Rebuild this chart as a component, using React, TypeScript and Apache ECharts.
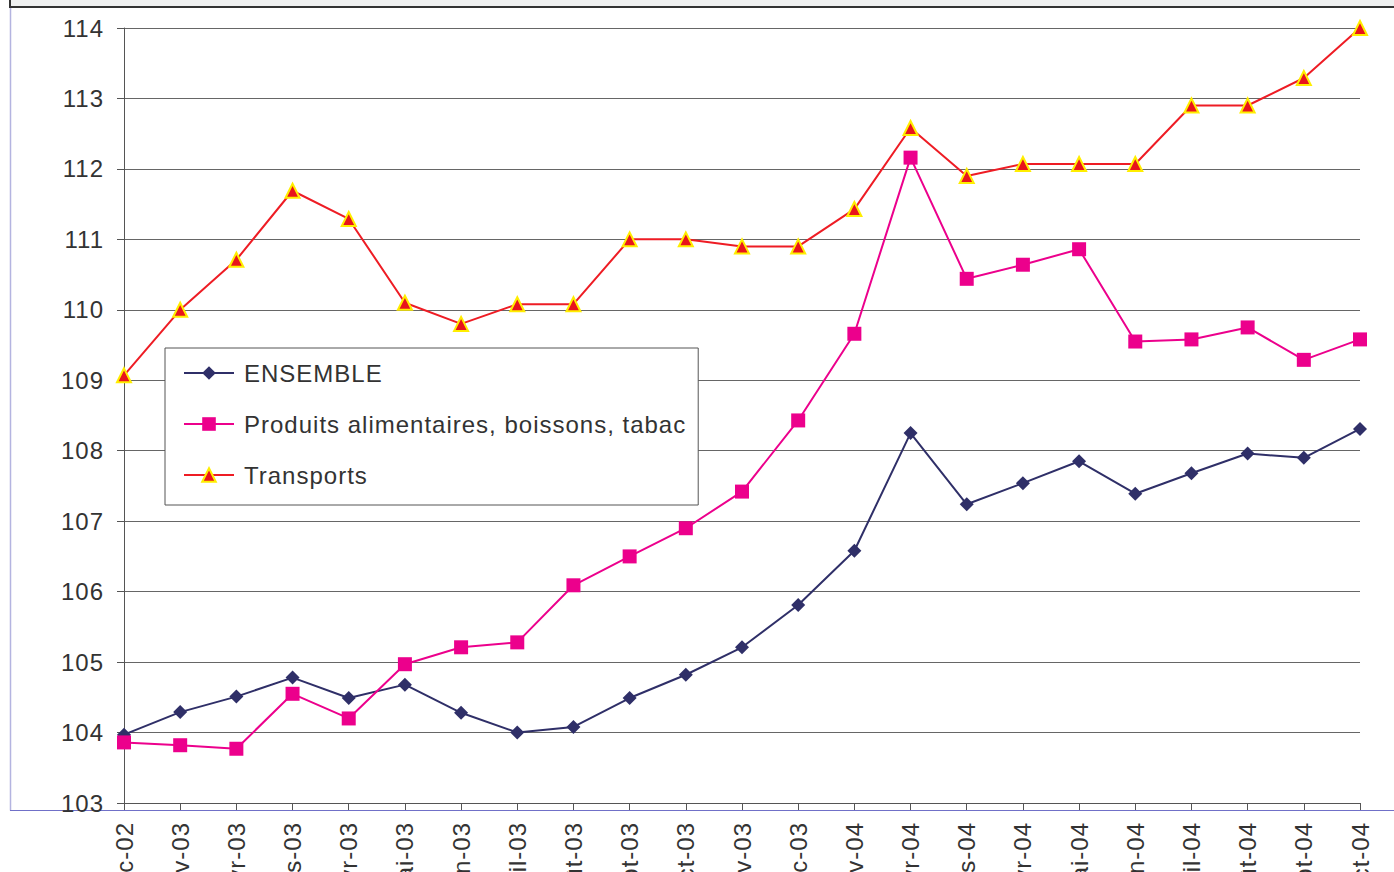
import React, { useEffect, useRef } from "react";
import * as echarts from "echarts";

const months = [
  "déc-02", "janv-03", "févr-03", "mars-03", "avr-03", "mai-03", "juin-03", "juil-03",
  "août-03", "sept-03", "oct-03", "nov-03", "déc-03", "janv-04", "févr-04", "mars-04",
  "avr-04", "mai-04", "juin-04", "juil-04", "août-04", "sept-04", "oct-04",
];

const ensemble = [
  103.97, 104.29, 104.51, 104.78, 104.49, 104.68, 104.28, 104.0, 104.08, 104.49, 104.82, 105.21,
  105.81, 106.58, 108.25, 107.24, 107.54, 107.85, 107.39, 107.68, 107.96, 107.9, 108.31,
];

const produits = [
  103.86, 103.82, 103.77, 104.55, 104.2, 104.97, 105.21, 105.28, 106.09, 106.5, 106.9, 107.42,
  108.43, 109.66, 112.16, 110.44, 110.64, 110.86, 109.55, 109.58, 109.75, 109.29, 109.58,
];

const transports = [
  109.07, 110.0, 110.71, 111.69, 111.29, 110.1, 109.8, 110.08, 110.08, 111.0, 111.0, 110.9,
  110.9, 111.43, 112.58, 111.9, 112.07, 112.07, 112.07, 112.9, 112.9, 113.29, 114.0,
];

const seriesNames = ["ENSEMBLE", "Produits alimentaires, boissons, tabac", "Transports"];
const yTicks = { min: 103, max: 114, interval: 1 };

const FONT = "'Liberation Sans', Arial, Helvetica, sans-serif";

export default function App() {
  const ref = useRef<HTMLDivElement>(null);

  useEffect(() => {
    if (!ref.current) return;
    const chart = echarts.init(ref.current, undefined, { renderer: "svg" });
    chart.setOption({
      animation: false,
      backgroundColor: "#ffffff",
      textStyle: { fontFamily: FONT },
      graphic: [
        {
          type: "rect",
          z: -10,
          silent: true,
          shape: { x: 10, y: -6, width: 1400, height: 13 },
          style: { fill: "#eff0f0", stroke: "#333333", lineWidth: 2 },
        },
        {
          type: "line",
          z: -10,
          silent: true,
          shape: { x1: 10.5, y1: 8, x2: 10.5, y2: 810.5 },
          style: { stroke: "#b4b4e0", lineWidth: 1.5 },
        },
        {
          type: "line",
          z: -10,
          silent: true,
          shape: { x1: 10, y1: 810.5, x2: 1394, y2: 810.5 },
          style: { stroke: "#7070c8", lineWidth: 1 },
        },
      ],
      grid: {
        left: 124,
        right: 34,
        top: 28,
        bottom: 69,
        containLabel: false,
        outerBoundsMode: "none",
      },
      legend: {
        orient: "vertical",
        left: 165,
        top: 348,
        data: seriesNames,
        backgroundColor: "#ffffff",
        borderColor: "#555555",
        borderWidth: 1,
        padding: [13, 50, 18, 18],
        itemWidth: 50,
        itemHeight: 17,
        itemGap: 27,
        textStyle: {
          fontSize: 24,
          color: "#333333",
          fontFamily: FONT,
          lineHeight: 24,
          padding: [0, 0, 0, 5],
        },
      },
      xAxis: {
        type: "category",
        data: months,
        boundaryGap: false,
        axisLine: { show: true, lineStyle: { color: "#555555", width: 1 } },
        axisTick: { show: true, length: 7, interval: 0, lineStyle: { color: "#555555" } },
        axisLabel: {
          interval: 0,
          rotate: 90,
          margin: 19,
          fontSize: 24,
          color: "#333333",
          fontFamily: FONT,
        },
        splitLine: { show: false },
      },
      yAxis: {
        type: "value",
        min: yTicks.min,
        max: yTicks.max,
        interval: yTicks.interval,
        axisLine: { show: true, lineStyle: { color: "#555555", width: 1 } },
        axisTick: { show: true, length: 7, lineStyle: { color: "#555555" } },
        axisLabel: { fontSize: 24, color: "#333333", margin: 20, fontFamily: FONT },
        splitLine: { show: true, lineStyle: { color: "#666666", width: 1 } },
      },
      series: [
        {
          name: seriesNames[0],
          type: "line",
          data: ensemble,
          symbol: "diamond",
          symbolSize: 14,
          lineStyle: { color: "#2f2f68", width: 2 },
          itemStyle: { color: "#2f2f68" },
          z: 3,
        },
        {
          name: seriesNames[1],
          type: "line",
          data: produits,
          symbol: "rect",
          symbolSize: 14,
          lineStyle: { color: "#ec008c", width: 2 },
          itemStyle: { color: "#ec008c" },
          z: 3,
        },
        {
          name: seriesNames[2],
          type: "line",
          data: transports,
          symbol: "triangle",
          symbolSize: 14,
          lineStyle: { color: "#ee1c24", width: 2 },
          itemStyle: { color: "#e8141c", borderColor: "#ffee00", borderWidth: 2 },
          z: 3,
        },
      ],
    });
    return () => chart.dispose();
  }, []);

  return (
    <div
      ref={ref}
      style={{
        position: "fixed",
        left: 0,
        top: 0,
        width: 1394,
        height: 872,
        letterSpacing: "1px",
      }}
    />
  );
}
